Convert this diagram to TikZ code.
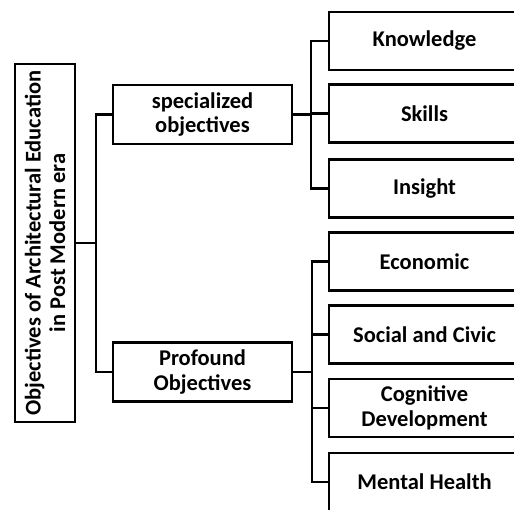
\documentclass[tikz,border=0pt]{standalone}
\usepackage{fontspec}
\setmainfont{Carlito}
\usetikzlibrary{positioning}

\begin{document}
\begin{tikzpicture}[
  x=1pt, y=-1pt,
  block/.style = {
    draw, rectangle, line width=2.2pt,
    minimum width=179pt, minimum height=59pt,
    align=center, inner sep=2pt,
    font=\fontsize{22.5}{24.5}\selectfont\bfseries
  },
  leaf/.style = {
    block, minimum width=191pt, minimum height=58pt
  },
  link/.style = {-, line width=2.2pt}
]

\useasboundingbox (0,0) rectangle (514,509);
\clip (0,0) rectangle (514,509);

% main objective, turned on its side
\node[block, rotate=90, minimum width=358pt, minimum height=60pt] (root) at (45,243)
  {Objectives of Architectural Education \\ in Post Modern era};

% second level
\node[block] (spec) at (202.5,114.5) {specialized \\ objectives};
\node[block] (prof) at (202.5,372) {Profound \\ Objectives};

% third level
\node[leaf] (know)    at (424.5,41)    {Knowledge};
\node[leaf] (skill)   at (424.5,113.5) {Skills};
\node[leaf] (insight) at (424.5,188.5) {Insight};

\node[leaf] (econ)   at (424.5,261.5) {Economic};
\node[leaf] (civic)  at (424.5,334.5) {Social and Civic};
\node[leaf] (cogn)   at (424.5,408)   {Cognitive \\ Development};
\node[leaf] (mental) at (424.5,482)   {Mental Health};

\draw[link] (root.south) -- ++(20,0) |- (spec.west);
\draw[link] (root.south) -- ++(20,0) |- (prof.west);

\foreach \c in {know, skill, insight}
  \draw[link] (spec.east) -- ++(18,0) |- (\c.west);

\foreach \c in {econ, civic, cogn, mental}
  \draw[link] (prof.east) -- ++(19,0) |- (\c.west);

\end{tikzpicture}
\end{document}
